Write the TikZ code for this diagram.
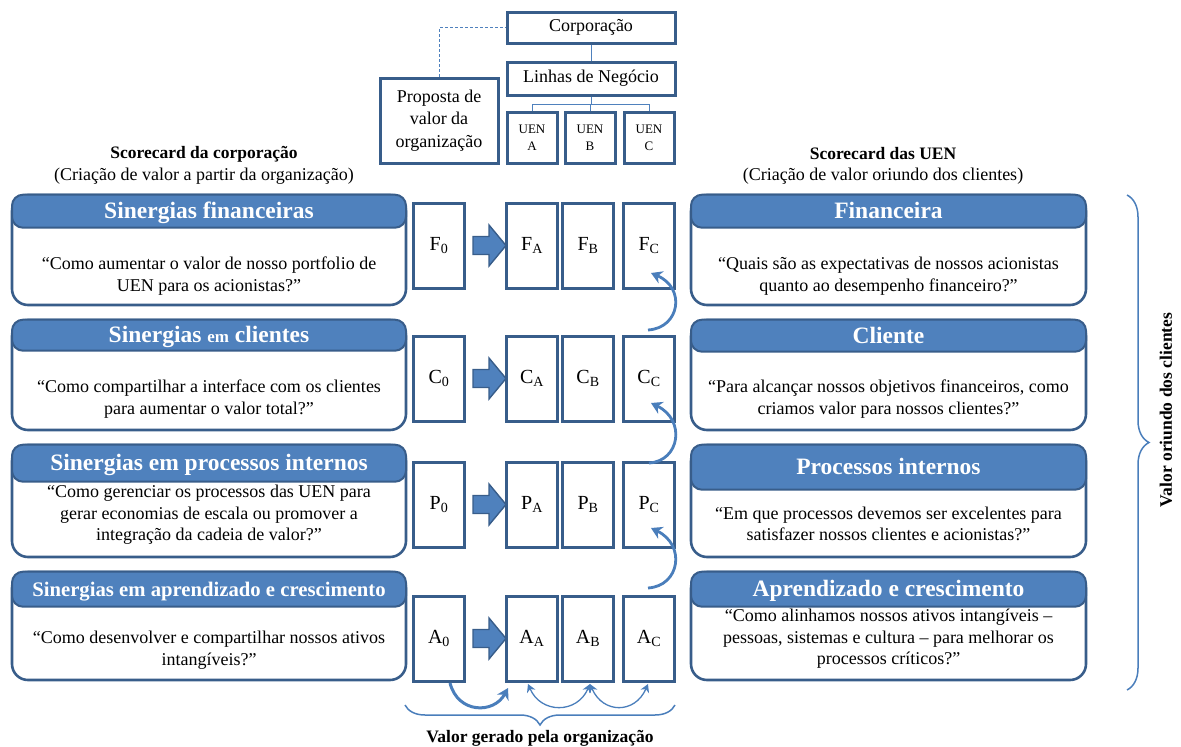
\documentclass[tikz,border=0pt]{standalone}
\usepackage{fontspec}
\setmainfont{Liberation Serif}
\usetikzlibrary{arrows.meta,calc,decorations.pathreplacing}
\definecolor{edge}{HTML}{385D8A}
\definecolor{accent}{HTML}{4F81BD}
\definecolor{linkblue}{HTML}{4A7EBB}

% block arrow between two boxes of a row
\newcommand\sendarrow[2]{%
  \draw[blockarrow] ($(#1.east)+(7,-9)$) -- ($(#1.east)+(23,-9)$) -- ($(#1.east)+(23,-20.5)$)
    -- ($(#2.west)+(1,0)$) -- ($(#1.east)+(23,20.5)$) -- ($(#1.east)+(23,9)$)
    -- ($(#1.east)+(7,9)$) -- cycle;}

\begin{document}
\begin{tikzpicture}[x=1pt,y=-1pt,
  cardbody/.style={draw=edge, line width=2.6pt, fill=white, rounded corners=16pt,
    inner sep=0pt},
  cardhead/.style={draw=edge, line width=2pt, fill=accent, rounded corners=11pt,
    inner sep=0pt, text=white, text height=16pt, text depth=1pt,
    font=\fontsize{23.5}{26}\selectfont\bfseries},
  body/.style={font=\fontsize{18}{21.5}\selectfont, align=center, inner sep=0pt},
  unit/.style={draw=edge, line width=3pt, fill=white, minimum width=51pt,
    minimum height=85pt, inner sep=0pt, font=\fontsize{20}{24}\selectfont},
  orgbox/.style={draw=edge, line width=3pt, fill=white, inner sep=0pt,
    font=\fontsize{18}{22.5}\selectfont, align=center},
  uenbox/.style={orgbox, minimum width=50pt, minimum height=51pt,
    font=\fontsize{13}{17}\selectfont},
  link/.style={draw=accent, line width=1pt},
  blockarrow/.style={fill=accent, draw=edge, line width=1.4pt, line join=miter},
  flow/.style={draw=linkblue, line width=2.8pt,
    -{Stealth[length=11pt,width=13pt,inset=3.5pt]}},
  twoway/.style={draw=linkblue, line width=1.3pt,
    {Stealth[length=8pt,width=9pt,inset=2.5pt]}-{Stealth[length=8pt,width=9pt,inset=2.5pt]}},
  bracket/.style={draw=linkblue, line width=1.5pt, decorate},
  title/.style={font=\fontsize{17.5}{21}\selectfont\bfseries, inner sep=0pt},
  subtitle/.style={font=\fontsize{18}{22}\selectfont, inner sep=0pt}
]
\useasboundingbox (0,0) rectangle (1181,747);

% ---- organisation chart ----
\node[orgbox, minimum width=168pt, minimum height=31pt] (corp) at (591,27.5) {Corporação};
\node[orgbox, minimum width=168pt, minimum height=33pt] (lines) at (591,78.5) {Linhas de Negócio};
\node[uenbox] (uena) at (532,137.5) {UEN\\A};
\node[uenbox] (uenb) at (590,137.5) {UEN\\B};
\node[uenbox] (uenc) at (649,137.5) {UEN\\C};
\node[orgbox, minimum width=118pt, minimum height=85pt] (prop) at (439,120.5) {Proposta de\\valor da\\organização};
\draw[link] (corp) -- (lines);
\draw[link] (lines.south) -- ++(0,8) -| (uena.north);
\draw[link] (lines.south) -- ++(0,8) -| (uenb.north);
\draw[link] (lines.south) -- ++(0,8) -| (uenc.north);
\draw[link, dash pattern=on 3pt off 2pt] (prop.north) |- (corp.west);

% ---- column titles ----
\node[title] (ltitle) at (204,154) {Scorecard da corporação};
\node[subtitle] (lsub) at (204,176) {(Criação de valor a partir da organização)};
\node[title] (rtitle) at (883,154) {Scorecard das UEN};
\node[subtitle] (rsub) at (883,176) {(Criação de valor oriundo dos clientes)};

% ---- corporate scorecard ----
\node[cardbody, minimum width=394pt, minimum height=110pt] (l1) at (209,250) {};
\node[cardhead, minimum width=394pt, minimum height=33pt, anchor=north] (l1h) at (l1.north) {Sinergias financeiras};
\node[body] (l1t) at (209,276) {“Como aumentar o valor de nosso portfolio de\\UEN para os acionistas?”};

\node[cardbody, minimum width=394pt, minimum height=110pt] (l2) at (209,375) {};
\node[cardhead, minimum width=394pt, minimum height=31pt, anchor=north] (l2h) at (l2.north) {Sinergias {\fontsize{17}{20}\selectfont em} clientes};
\node[body] (l2t) at (209,399) {“Como compartilhar a interface com os clientes\\para aumentar o valor total?”};

\node[cardbody, minimum width=394pt, minimum height=112pt] (l3) at (209,501) {};
\node[cardhead, minimum width=394pt, minimum height=37pt, anchor=north] (l3h) at (l3.north) {Sinergias em processos internos};
\node[body] (l3t) at (209,515) {“Como gerenciar os processos das UEN para\\gerar economias de escala ou promover a\\integração da cadeia de valor?”};

\node[cardbody, minimum width=394pt, minimum height=108pt] (l4) at (209,626) {};
\node[cardhead, minimum width=394pt, minimum height=35pt, anchor=north, font=\fontsize{20.7}{24}\selectfont\bfseries] (l4h) at (l4.north) {Sinergias em aprendizado e crescimento};
\node[body] (l4t) at (209,650) {“Como desenvolver e compartilhar nossos ativos\\intangíveis?”};

% ---- business unit scorecard ----
\node[cardbody, minimum width=395pt, minimum height=110pt] (r1) at (888.5,250) {};
\node[cardhead, minimum width=395pt, minimum height=33pt, anchor=north] (r1h) at (r1.north) {Financeira};
\node[body] (r1t) at (888.5,276) {“Quais são as expectativas de nossos acionistas\\quanto ao desempenho financeiro?”};

\node[cardbody, minimum width=395pt, minimum height=110pt] (r2) at (888.5,375) {};
\node[cardhead, minimum width=395pt, minimum height=32pt, anchor=north] (r2h) at (r2.north) {Cliente};
\node[body] (r2t) at (888.5,399) {“Para alcançar nossos objetivos financeiros, como\\criamos valor para nossos clientes?”};

\node[cardbody, minimum width=395pt, minimum height=112pt] (r3) at (888.5,501) {};
\node[cardhead, minimum width=395pt, minimum height=45pt, anchor=north] (r3h) at (r3.north) {Processos internos};
\node[body] (r3t) at (888.5,524) {“Em que processos devemos ser excelentes para\\satisfazer nossos clientes e acionistas?”};

\node[cardbody, minimum width=395pt, minimum height=108pt] (r4) at (888.5,626) {};
\node[cardhead, minimum width=395pt, minimum height=35pt, anchor=north] (r4h) at (r4.north) {Aprendizado e crescimento};
\node[body] (r4t) at (888.5,639) {“Como alinhamos nossos ativos intangíveis –\\pessoas, sistemas e cultura – para melhorar os\\processos críticos?”};

% ---- perspective boxes ----
\node[unit] (f0) at (439,245.5) {F\textsubscript{0}};
\node[unit] (fa) at (532,245.5) {F\textsubscript{A}};
\node[unit] (fb) at (588,245.5) {F\textsubscript{B}};
\node[unit] (fc) at (649,245.5) {F\textsubscript{C}};
\node[unit] (c0) at (439,378.5) {C\textsubscript{0}};
\node[unit] (ca) at (532,378.5) {C\textsubscript{A}};
\node[unit] (cb) at (588,378.5) {C\textsubscript{B}};
\node[unit] (cc) at (649,378.5) {C\textsubscript{C}};
\node[unit] (p0) at (439,504.5) {P\textsubscript{0}};
\node[unit] (pa) at (532,504.5) {P\textsubscript{A}};
\node[unit] (pb) at (588,504.5) {P\textsubscript{B}};
\node[unit] (pc) at (649,504.5) {P\textsubscript{C}};
\node[unit] (a0) at (439,638.5) {A\textsubscript{0}};
\node[unit] (aa) at (532,638.5) {A\textsubscript{A}};
\node[unit] (ab) at (588,638.5) {A\textsubscript{B}};
\node[unit] (ac) at (649,638.5) {A\textsubscript{C}};

\sendarrow{f0}{fa}
\sendarrow{c0}{ca}
\sendarrow{p0}{pa}
\sendarrow{a0}{aa}

% ---- upward links between perspectives of unit C ----
\coordinate (fcFrom) at (648,330);
\coordinate (fcIn) at (651,273);
\coordinate (ccFrom) at (649,463);
\coordinate (ccIn) at (651,403);
\coordinate (pcFrom) at (648,588);
\coordinate (pcIn) at (651,528);
\draw[flow] (fcFrom) .. controls (680,328) and (686,288) .. (fcIn);
\draw[flow] (ccFrom) .. controls (680,461) and (686,420) .. (ccIn);
\draw[flow] (pcFrom) .. controls (680,586) and (686,545) .. (pcIn);

% ---- links below the learning row ----
\coordinate (a0Out) at (450,683);
\coordinate (aaIn) at (508,688);
\coordinate (aaFoot) at (528,684);
\coordinate (abFoot) at (590,684);
\coordinate (acFoot) at (648,684);
\draw[flow, line width=3pt] (a0Out) .. controls (458,714) and (494,714) .. (aaIn);
\draw[twoway] (aaFoot) .. controls (541,714) and (577,714) .. (abFoot);
\draw[twoway] (abFoot) .. controls (603,714) and (635,714) .. (acFoot);

% ---- braces ----
\coordinate (bl) at (405,705);
\coordinate (br) at (675,705);
\draw[bracket, decoration={brace, amplitude=20pt, mirror}] (bl) -- (br);
\node[title] (bottomlabel) at (540,738) {Valor gerado pela organização};
\coordinate (rt) at (1127,195);
\coordinate (rb) at (1127,690);
\draw[bracket, decoration={brace, amplitude=22pt}] (rt) -- (rb);
\node[title, rotate=90] (sidelabel) at (1166,410) {Valor oriundo dos clientes};
\end{tikzpicture}
\end{document}
